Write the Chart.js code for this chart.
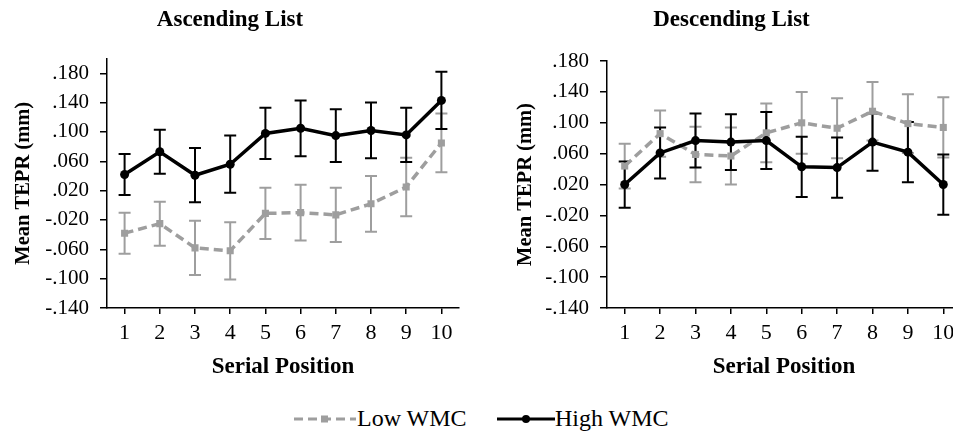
<!DOCTYPE html>
<html>
<head>
<meta charset="utf-8">
<script src="https://cdn.jsdelivr.net/npm/chart.js@4.4.1/dist/chart.umd.min.js"></script>
<style>
  html, body { margin: 0; padding: 0; background: #fff; width: 953px; height: 435px; overflow: hidden; }
  #wrap { position: relative; width: 953px; height: 435px; overflow: hidden; }
  #c-asc  { position: absolute; left: 0;     top: 0; }
  #c-desc { position: absolute; left: 480px; top: 0; }
  .lg { position: absolute; top: 405px; height: 26px; line-height: 26px;
        font-family: 'Liberation Serif', 'Times New Roman', serif; font-size: 24px; color: #000; white-space: nowrap; }
  .lg svg { position: absolute; top: 0; }
</style>
</head>
<body>
<div id="wrap">
  <canvas id="c-asc" width="464" height="390"></canvas>
  <canvas id="c-desc" width="508" height="390"></canvas>
  <div class="lg" style="left:293px">
    <svg width="64" height="26" style="left:0">
      <line x1="1" y1="14" x2="63" y2="14" stroke="#9e9e9e" stroke-width="3" stroke-dasharray="9,5"/>
      <rect x="28" y="10.5" width="7" height="7" fill="#9e9e9e"/>
    </svg>
    <span style="position:absolute;left:64px">Low WMC</span>
  </div>
  <div class="lg" style="left:497px">
    <svg width="58" height="26" style="left:0">
      <line x1="0" y1="14" x2="58" y2="14" stroke="#000" stroke-width="3"/>
      <circle cx="29" cy="14" r="4" fill="#000"/>
    </svg>
    <span style="position:absolute;left:58px">High WMC</span>
  </div>
</div>

<script>
// ── DATA ─────────────────────────────────────────────────────────────────────
const positions   = ['1','2','3','4','5','6','7','8','9','10'];
const yTickValues = [-0.14, -0.10, -0.06, -0.02, 0.02, 0.06, 0.10, 0.14, 0.18];

// Ascending list
const ascLow      = [-0.038, -0.025, -0.058, -0.062, -0.011, -0.010, -0.013, 0.002, 0.025, 0.085];
const ascLowErr   = [0.028, 0.030, 0.037, 0.039, 0.035, 0.038, 0.037, 0.038, 0.040, 0.040];
const ascHigh     = [0.042, 0.073, 0.041, 0.056, 0.098, 0.105, 0.095, 0.102, 0.096, 0.143];
const ascHighErr  = [0.028, 0.030, 0.037, 0.039, 0.035, 0.038, 0.036, 0.038, 0.037, 0.039];

// Descending list
const descLow     = [0.044, 0.086, 0.059, 0.057, 0.087, 0.100, 0.093, 0.115, 0.099, 0.094];
const descLowErr  = [0.029, 0.030, 0.036, 0.037, 0.038, 0.040, 0.039, 0.038, 0.038, 0.039];
const descHigh    = [0.020, 0.061, 0.077, 0.075, 0.077, 0.043, 0.042, 0.075, 0.062, 0.020];
const descHighErr = [0.030, 0.033, 0.035, 0.036, 0.037, 0.039, 0.039, 0.037, 0.039, 0.039];

// ── STYLE ────────────────────────────────────────────────────────────────────
const SERIF = "'Liberation Serif', 'Times New Roman', serif";
const GRAY  = '#9e9e9e';
Chart.defaults.font.family = SERIF;
Chart.defaults.color = '#000';

function fmtTick(v) {
  const s = Math.abs(v).toFixed(3).slice(1);
  return (v < -1e-9 ? '-' : '') + s;
}

// error bars drawn under the lines, through the chart's own scales
const errorBars = {
  id: 'errorBars',
  beforeDatasetsDraw(chart) {
    const { ctx, scales: { x, y } } = chart;
    chart.data.datasets.forEach(ds => {
      ctx.save();
      ctx.strokeStyle = ds.borderColor;
      ctx.lineWidth = 2;
      ds.data.forEach((v, i) => {
        const e = ds.errors[i];
        const px = x.getPixelForValue(i);
        const top = y.getPixelForValue(v + e);
        const bot = y.getPixelForValue(v - e);
        ctx.beginPath();
        ctx.moveTo(px, top); ctx.lineTo(px, bot);
        ctx.moveTo(px - 6, top); ctx.lineTo(px + 6, top);
        ctx.moveTo(px - 6, bot); ctx.lineTo(px + 6, bot);
        ctx.stroke();
      });
      ctx.restore();
    });
  }
};

function _mkChart(id, cfg) {
  const ctx = document.getElementById(id).getContext('2d');
  return new Chart(ctx, {
    type: 'line',
    data: {
      labels: positions,
      datasets: [
        { label: 'Low WMC', data: cfg.low, errors: cfg.lowErr, order: 1,
          borderColor: GRAY, backgroundColor: GRAY, borderWidth: 3.5, borderDash: [9, 5],
          pointStyle: 'rect', pointRadius: 5, pointHoverRadius: 5, pointBorderWidth: 0, tension: 0 },
        { label: 'High WMC', data: cfg.high, errors: cfg.highErr, order: 0,
          borderColor: '#000', backgroundColor: '#000', borderWidth: 3.5,
          pointStyle: 'circle', pointRadius: 4.5, pointHoverRadius: 4.5, pointBorderWidth: 0, tension: 0 }
      ]
    },
    options: {
      responsive: false,
      animation: false,
      events: [],
      layout: { padding: cfg.padding },
      plugins: {
        legend: { display: false },
        tooltip: { enabled: false },
        title: { display: true, text: cfg.title, color: '#000',
                 font: { family: SERIF, size: 23, weight: 'bold' },
                 padding: { top: 6.5, bottom: cfg.titleGap } }
      },
      scales: {
        x: {
          type: 'category', offset: true,
          grid: { offset: false, drawOnChartArea: false, drawTicks: true, tickLength: 6, color: '#000', lineWidth: 1.5 },
          border: { color: '#000', width: 1.5 },
          ticks: { color: '#000', font: { family: SERIF, size: 22 }, padding: 6, maxRotation: 0, autoSkip: false },
          title: { display: true, text: 'Serial Position', color: '#000',
                   font: { family: SERIF, size: 23, weight: 'bold' }, padding: { top: 0, bottom: 9 } },
          afterFit: s => { s.height = 82; }
        },
        y: {
          min: -0.14, max: cfg.yMax, bounds: 'data',
          afterBuildTicks: s => { s.ticks = yTickValues.map(v => ({ value: v })); },
          afterFit: s => { s.width = cfg.yWidth; },
          grid: { drawOnChartArea: false, drawTicks: true, tickLength: 7, color: '#000', lineWidth: 1.5 },
          border: { color: '#000', width: 1.5 },
          ticks: { color: '#000', font: { family: SERIF, size: 21 }, padding: 11, callback: v => fmtTick(v) },
          title: { display: true, text: 'Mean TEPR (mm)', color: '#000',
                   font: { family: SERIF, size: 20.5, weight: 'bold' }, padding: { top: 11, bottom: 0 } }
        }
      }
    },
    plugins: [errorBars]
  });
}

_mkChart('c-asc', {
  title: 'Ascending List', low: ascLow, lowErr: ascLowErr, high: ascHigh, highErr: ascHighErr,
  yMax: 0.2, yWidth: 107, titleGap: 24.5, padding: { left: 0, right: 4, top: 0, bottom: 0 }
});
_mkChart('c-desc', {
  title: 'Descending List', low: descLow, lowErr: descLowErr, high: descHigh, highErr: descHighErr,
  yMax: 0.18, yWidth: 105, titleGap: 27, padding: { left: 22, right: 27, top: 0, bottom: 0 }
});
</script>
</body>
</html>
